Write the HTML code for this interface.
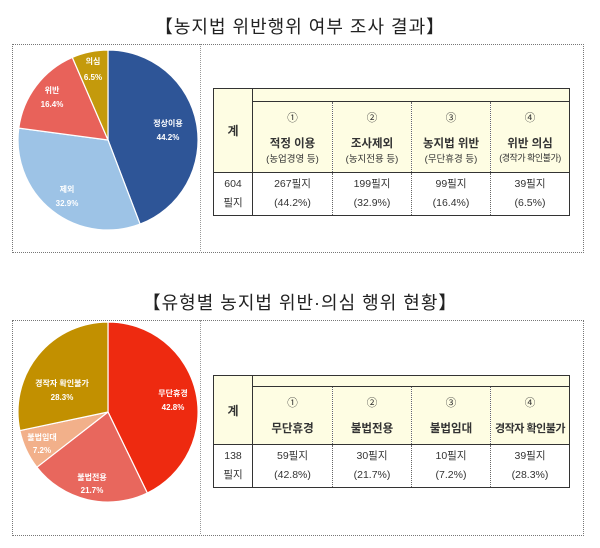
<!DOCTYPE html>
<html><head><meta charset="utf-8"><style>
body{margin:0;background:#fff;width:600px;height:548px;overflow:hidden;position:relative;font-family:"Liberation Sans","Noto Sans CJK KR",sans-serif;}
.t{position:absolute;left:0;width:600px;text-align:center;font-size:18px;letter-spacing:1px;color:#222;}
.box{position:absolute;border:1px dotted #777;}
.div{position:absolute;border-left:1px dotted #999;}
table{position:absolute;border-collapse:collapse;font-size:10.5px;color:#333;text-align:center;table-layout:fixed;}
td{padding:0;white-space:nowrap;overflow:hidden;}
.hd{background:#fefde3;}
</style></head><body>
<div class="t" style="top:13px">【농지법 위반행위 여부 조사 결과】</div>
<div class="box" style="left:12px;top:44px;width:570px;height:207px"></div>
<div class="div" style="left:200px;top:44px;height:207px"></div>
<div class="t" style="top:289px">【유형별 농지법 위반·의심 행위 현황】</div>
<div class="box" style="left:12px;top:320px;width:570px;height:214px"></div>
<div class="div" style="left:200px;top:320px;height:214px"></div>
<svg width="600" height="548" style="position:absolute;left:0;top:0" font-family="Liberation Sans, Noto Sans CJK KR, sans-serif" font-weight="bold" font-size="8" fill="#fff" text-anchor="middle">
<g stroke="#fff" stroke-width="1.2">
<path d="M108,140 L108,50 A90,90 0 0 1 140.1,224.1 Z" fill="#2e5597"/>
<path d="M108,140 L140.1,224.1 A90,90 0 0 1 18.8,128.1 Z" fill="#9dc3e6"/>
<path d="M108,140 L18.8,128.1 A90,90 0 0 1 72.3,57.4 Z" fill="#e8625a"/>
<path d="M108,140 L72.3,57.4 A90,90 0 0 1 108,50 Z" fill="#c49a0c"/>
<path d="M108,412 L108,322 A90,90 0 0 1 147.3,493 Z" fill="#ee2a10"/>
<path d="M108,412 L147.3,493 A90,90 0 0 1 36.9,467.2 Z" fill="#e8675d"/>
<path d="M108,412 L36.9,467.2 A90,90 0 0 1 19.9,430.6 Z" fill="#f2b08a"/>
<path d="M108,412 L19.9,430.6 A90,90 0 0 1 108,322 Z" fill="#c29000"/>
</g>
<text x="168" y="126">정상이용</text><text x="168" y="140">44.2%</text>
<text x="93" y="64">의심</text><text x="93" y="80">6.5%</text>
<text x="52" y="93">위반</text><text x="52" y="107">16.4%</text>
<text x="67" y="192">제외</text><text x="67" y="206">32.9%</text>
<text x="173" y="396">무단휴경</text><text x="173" y="410">42.8%</text>
<text x="62" y="386">경작자 확인불가</text><text x="62" y="400">28.3%</text>
<text x="42" y="440">불법임대</text><text x="42" y="453">7.2%</text>
<text x="92" y="480">불법전용</text><text x="92" y="493">21.7%</text>
</svg>
<table style="left:213px;top:88px;width:357px;border:1.5px solid #333">
<colgroup><col style="width:39px"><col style="width:80px"><col style="width:79px"><col style="width:79px"><col style="width:79px"></colgroup>
<tr style="height:13px"><td rowspan="2" class="hd" style="border-right:1px solid #333;font-weight:bold;font-size:12px">계</td><td colspan="4" class="hd" style="border-bottom:1px solid #333"></td></tr>
<tr style="height:71px" class="hd">
<td style="border-right:1px dotted #666"><div>①</div><div style="margin-top:10px;font-size:11.5px;font-weight:bold">적정 이용</div><div style="font-size:9.5px">(농업경영 등)</div></td>
<td style="border-right:1px dotted #666"><div>②</div><div style="margin-top:10px;font-size:11.5px;font-weight:bold">조사제외</div><div style="font-size:9.5px">(농지전용 등)</div></td>
<td style="border-right:1px dotted #666"><div>③</div><div style="margin-top:10px;font-size:11.5px;font-weight:bold">농지법 위반</div><div style="font-size:9.5px">(무단휴경 등)</div></td>
<td><div>④</div><div style="margin-top:10px;font-size:11.5px;font-weight:bold">위반 의심</div><div style="font-size:9px;letter-spacing:-0.5px">(경작가 확인불가)</div></td></tr>
<tr style="height:43px;border-top:1px solid #333;line-height:19px">
<td style="border-right:1px solid #333">604<br>필지</td>
<td style="border-right:1px dotted #666">267필지<br>(44.2%)</td>
<td style="border-right:1px dotted #666">199필지<br>(32.9%)</td>
<td style="border-right:1px dotted #666">99필지<br>(16.4%)</td>
<td>39필지<br>(6.5%)</td></tr>
</table>
<table style="left:213px;top:375px;width:357px;border:1.5px solid #333">
<colgroup><col style="width:39px"><col style="width:80px"><col style="width:79px"><col style="width:79px"><col style="width:79px"></colgroup>
<tr style="height:11px"><td rowspan="2" class="hd" style="border-right:1px solid #333;font-weight:bold;font-size:12px">계</td><td colspan="4" class="hd" style="border-bottom:1px solid #333"></td></tr>
<tr style="height:58px" class="hd">
<td style="border-right:1px dotted #666"><div>①</div><div style="margin-top:10px;font-size:11.5px;font-weight:bold">무단휴경</div></td>
<td style="border-right:1px dotted #666"><div>②</div><div style="margin-top:10px;font-size:11.5px;font-weight:bold">불법전용</div></td>
<td style="border-right:1px dotted #666"><div>③</div><div style="margin-top:10px;font-size:11.5px;font-weight:bold">불법임대</div></td>
<td><div>④</div><div style="margin-top:10px;font-size:11px;font-weight:bold;letter-spacing:-0.5px">경작자 확인불가</div></td></tr>
<tr style="height:43px;border-top:1px solid #333;line-height:19px">
<td style="border-right:1px solid #333">138<br>필지</td>
<td style="border-right:1px dotted #666">59필지<br>(42.8%)</td>
<td style="border-right:1px dotted #666">30필지<br>(21.7%)</td>
<td style="border-right:1px dotted #666">10필지<br>(7.2%)</td>
<td>39필지<br>(28.3%)</td></tr>
</table>
</body></html>
